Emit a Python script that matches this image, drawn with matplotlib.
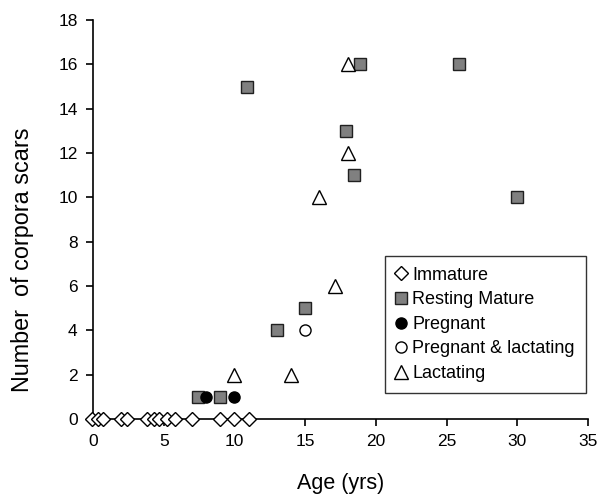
import matplotlib.pyplot as plt

plt.rcParams['font.family'] = ['Liberation Sans', 'DejaVu Sans']

# Immature (all at 0 scars)
immature_age = [-0.1, 0.35, 0.7, 1.95, 2.4, 3.8, 4.3, 4.7, 5.2, 5.8, 7.0, 9.0, 10.0, 11.0]
immature_scars = [0] * len(immature_age)

# Resting mature
resting_age = [7.4, 8.95, 10.9, 13.0, 15.0, 17.9, 18.45, 18.9, 25.9, 29.95]
resting_scars = [1, 1, 15, 4, 5, 13, 11, 16, 16, 10]

# Pregnant
pregnant_age = [8.0, 10.0]
pregnant_scars = [1, 1]

# Pregnant & lactating
preglac_age = [15.0]
preglac_scars = [4]

# Lactating
lact_age = [10.0, 14.0, 16.0, 17.1, 18.0, 18.0]
lact_scars = [2, 2, 10, 6, 12, 16]

fig = plt.figure(figsize=(6, 5.04), dpi=100)
ax = fig.add_axes([0.155, 0.169, 0.825, 0.791])

ax.plot(immature_age, immature_scars, linestyle='none', marker='D', ms=7.2,
        mfc='white', mec='black', mew=1.0, clip_on=False, zorder=5, label='Immature')
ax.plot(resting_age, resting_scars, linestyle='none', marker='s', ms=8,
        mfc='#808080', mec='#202020', mew=1.0, clip_on=False, zorder=5, label='Resting Mature')
ax.plot(pregnant_age, pregnant_scars, linestyle='none', marker='o', ms=8,
        mfc='black', mec='black', mew=1.0, clip_on=False, zorder=6, label='Pregnant')
ax.plot(preglac_age, preglac_scars, linestyle='none', marker='o', ms=8,
        mfc='white', mec='black', mew=1.0, clip_on=False, zorder=5, label='Pregnant & lactating')
ax.plot(lact_age, lact_scars, linestyle='none', marker='^', ms=10,
        mfc='white', mec='black', mew=1.0, clip_on=False, zorder=5, label='Lactating')

ax.set_xlim(0, 35)
ax.set_ylim(0, 18)
ax.set_xticks(range(0, 36, 5))
ax.set_yticks(range(0, 19, 2))
ax.spines['top'].set_visible(False)
ax.spines['right'].set_visible(False)
for s in ('left', 'bottom'):
    ax.spines[s].set_linewidth(1.2)
ax.tick_params(direction='out', length=5, width=1.2, labelsize=12.5, pad=6)

ax.set_xlabel('Age (yrs)', fontsize=15.5, labelpad=17)
ax.set_ylabel('Number  of corpora scars', fontsize=16.8)
ax.yaxis.set_label_coords(-0.12, 0.40)

leg = ax.legend(loc='lower right', bbox_to_anchor=(0.995, 0.065), fontsize=13,
                frameon=True, fancybox=False, edgecolor='black',
                handlelength=0.6, handletextpad=0.3, labelspacing=0.42,
                borderpad=0.6, borderaxespad=0)
leg.get_frame().set_linewidth(1.0)

fig.savefig('out.png', dpi=100)
